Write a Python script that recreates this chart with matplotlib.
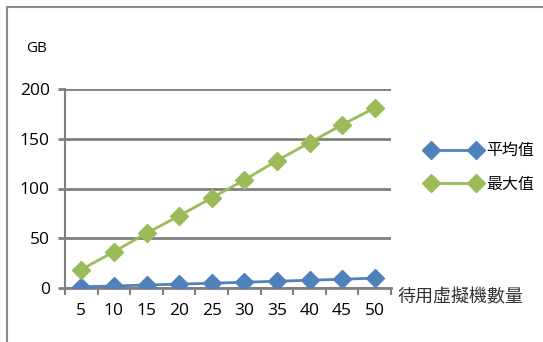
import matplotlib.pyplot as plt
from matplotlib.patches import Rectangle

plt.rcParams['font.family'] = ['Open Sans', 'Noto Sans CJK TC', 'DejaVu Sans']

vm_counts = ['5', '10', '15', '20', '25', '30', '35', '40', '45', '50']
avg_gb = [1.2, 2, 3, 3.9, 4.8, 5.8, 6.8, 7.8, 8.8, 9.9]
max_gb = [18.5, 36.5, 55, 72.5, 90.5, 108.5, 128, 146, 164, 181]
y_ticks = [0, 50, 100, 150, 200]

blue = '#4F81BD'
green = '#9BBB59'
grid_c = '#808080'

fig = plt.figure(figsize=(5.43, 3.42), dpi=100)
W, H = 543, 342
ax = fig.add_axes([65 / W, 1 - 288 / H, (391 - 65) / W, (288 - 89) / H])

# outer chart frame
fig.patches.append(Rectangle((7 / W, -0.1), 1.2, 1 - 7 / H + 0.1, transform=fig.transFigure,
                             fill=False, edgecolor='#8c8c8c', linewidth=1.5))

x = list(range(len(vm_counts)))
ax.plot(x, avg_gb, color=blue, lw=2, marker='D', ms=9, label='平均值', zorder=3)
ax.plot(x, max_gb, color=green, lw=2, marker='D', ms=9, label='最大值', zorder=3)

ax.set_xlim(-0.5, len(vm_counts) - 0.5)
ax.set_ylim(0, 200)
ax.set_yticks(y_ticks)
ax.yaxis.grid(True, color=grid_c, lw=2)
ax.set_axisbelow(True)

ax.set_xticks([i - 0.5 for i in range(len(vm_counts) + 1)])
ax.set_xticklabels([])
ax.set_xticks(x, minor=True)
ax.set_xticklabels(vm_counts, minor=True, fontsize=12.5)
ax.tick_params(axis='x', which='major', length=5, width=1.5, color=grid_c, direction='out')
ax.tick_params(axis='x', which='minor', length=0, pad=11)
ax.tick_params(axis='y', length=5, width=2, color=grid_c, labelsize=12.5, pad=6)

for s in ['top', 'right']:
    ax.spines[s].set_visible(False)
ax.spines['left'].set_color(grid_c)
ax.spines['left'].set_linewidth(1.5)
ax.spines['bottom'].set_color(grid_c)
ax.spines['bottom'].set_linewidth(2)

fig.text(26 / W, 1 - 48 / H, 'GB', fontsize=11, ha='left', va='center')
fig.text(397 / W, 1 - 297 / H, '待用虛擬機數量', fontsize=13, ha='left', va='center',
         color='#333333')

ax.legend(loc='center left', bbox_to_anchor=(418 / W, 1 - 168 / H), bbox_transform=fig.transFigure,
          frameon=False, fontsize=11.5, numpoints=2, handlelength=3.4, handletextpad=0.35,
          labelspacing=1.1, borderpad=0)

fig.savefig('out.png', dpi=100)
